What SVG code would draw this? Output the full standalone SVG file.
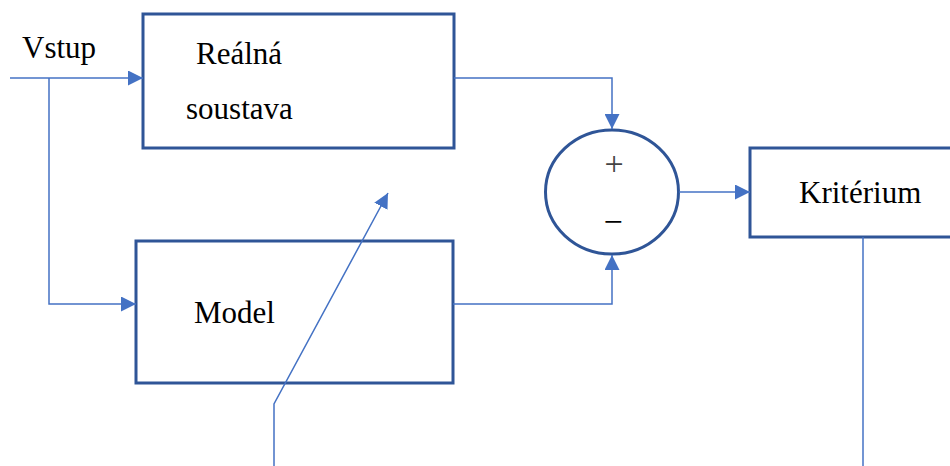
<svg xmlns="http://www.w3.org/2000/svg" width="950" height="466" viewBox="0 0 950 466">
<style>
.box{fill:#fff;stroke:#2F5597;stroke-width:3}
.ln{fill:none;stroke:#4472C4;stroke-width:1.5}
.arr{marker-end:url(#ah)}
.t{font-family:"Liberation Serif","Times New Roman",serif;font-size:31px;fill:#000}
.sg{font-family:"Liberation Serif","Times New Roman",serif;font-size:34px;text-anchor:middle}
</style>
<defs>
<marker id="ah" viewBox="0 0 10 10" refX="10" refY="5" markerWidth="15" markerHeight="15" markerUnits="userSpaceOnUse" orient="auto">
<path d="M0,0 L10,5 L0,10 z" fill="#4472C4"/>
</marker>
</defs>
<g id="real">
<rect class="box" x="143" y="14" width="311" height="134"/>
<text class="t" x="196" y="64">Reálná</text>
<text class="t" x="186" y="119">soustava</text>
</g>
<g id="model">
<rect class="box" x="136" y="241" width="317" height="142"/>
<text class="t" x="194" y="323">Model</text>
</g>
<g id="sum">
<ellipse cx="612" cy="192" rx="66.5" ry="62" fill="#fff" stroke="#2F5597" stroke-width="3"/>
<text class="sg" x="614" y="175" fill="#444">+</text>
<text class="sg" x="613" y="233" fill="#000">−</text>
</g>
<g id="kriterium">
<rect class="box" x="750" y="148" width="202" height="89"/>
<text class="t" x="799" y="203">Kritérium</text>
</g>
<g id="input">
<text class="t" x="22" y="58">Vstup</text>
</g>
<g id="connectors">
<path class="ln arr" d="M10,78 H143"/>
<path class="ln arr" d="M49,78 V304 H136"/>
<path class="ln arr" d="M454,78 H612 V129"/>
<path class="ln arr" d="M453,304 H612 V255"/>
<path class="ln arr" d="M679,192 H750"/>
<path class="ln" d="M863,237 V466"/>
<path class="ln arr" d="M274,466 V404 L388,193"/>
</g>
</svg>
